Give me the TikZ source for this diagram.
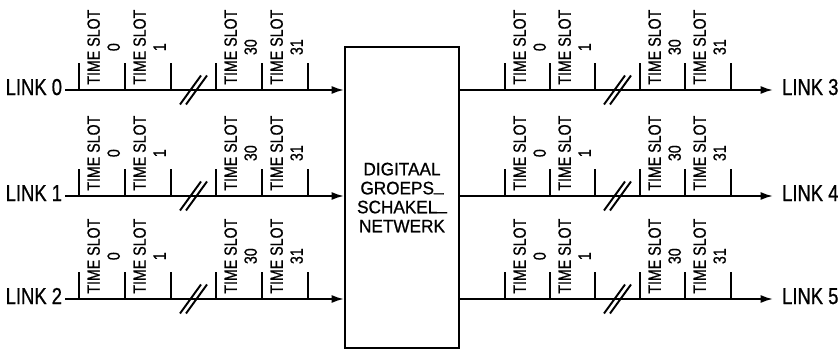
\documentclass[tikz,border=0pt]{standalone}
\usepackage{fontspec}
\setmainfont{Liberation Sans}[FakeStretch=0.8, FakeBold=0.8]
\newfontfamily\boxfont{Liberation Sans}[FakeStretch=0.95, FakeBold=0.8]
\usetikzlibrary{arrows.meta}
\tikzset{>={Latex[length=7pt,width=4.5pt]}}
\tikzset{
  link/.style = {inner sep=1.5pt, text height=9.4pt, text depth=3.7pt, font=\fontsize{13.1}{15}\selectfont},
  linkin/.style = {link, anchor=east},
  linkout/.style = {link, inner xsep=5pt, anchor=west},
  slot/.style = {rotate=90, anchor=north west, inner sep=0pt, align=center, font=\fontsize{10.1}{11.4}\selectfont},
  tick/.style = {line width=1.1pt},
  wire/.style = {line width=1.1pt, ->}
}
\newcommand{\lowdash}{\raisebox{2pt}{\_}}

\begin{document}
\begin{tikzpicture}
\useasboundingbox (0, 0) rectangle (16.78, -7.02);

\node [draw, line width=1.1pt, minimum width=2.28cm, minimum height=6.02cm, align=center,
  font=\boxfont\fontsize{10.3}{10.8}\selectfont] (net) at (8.04, -3.95)
  {DIGITAAL\\GROEPS\lowdash\\SCHAKEL\lowdash\\NETWERK};

\node [linkin] (link0) at (1.3, -1.8) {LINK 0};
\node [linkin] (link1) at (1.3, -3.92) {LINK 1};
\node [linkin] (link2) at (1.3, -5.98) {LINK 2};
\node [linkout] (link3) at (15.46, -1.8) {LINK 3};
\node [linkout] (link4) at (15.46, -3.92) {LINK 4};
\node [linkout] (link5) at (15.46, -5.98) {LINK 5};

\draw [wire] (link0.east) -- (link0.east -| net.west);
\draw [wire] (link1.east) -- (link1.east -| net.west);
\draw [wire] (link2.east) -- (link2.east -| net.west);
\draw [wire] (net.east |- link3.west) -- (link3.west);
\draw [wire] (net.east |- link4.west) -- (link4.west);
\draw [wire] (net.east |- link5.west) -- (link5.west);

% time slot marks on every link
\foreach \yy [count=\r] in {-1.8, -3.92, -5.98} {
  \foreach \xx in {1.58, 2.5, 3.42, 4.32, 5.24, 6.16, 10.1, 11.0, 11.9, 12.8, 13.7, 14.62}
    \draw [tick] (\xx, \yy) -- ++(0, 0.54);
  \foreach \xx/\n [count=\i] in {1.58/0, 2.5/1, 4.32/30, 5.24/31, 10.1/0, 11.0/1, 12.8/30, 13.7/31}
    \node [slot] (ts\r-\i) at (\xx+0.16, \yy+0.1) {TIME SLOT\\\n};
  \foreach \xx in {3.81, 3.93, 12.29, 12.41}
    \draw [tick] (\xx-0.21, \yy-0.29) -- ++(0.42, 0.58);
}
\end{tikzpicture}
\end{document}
